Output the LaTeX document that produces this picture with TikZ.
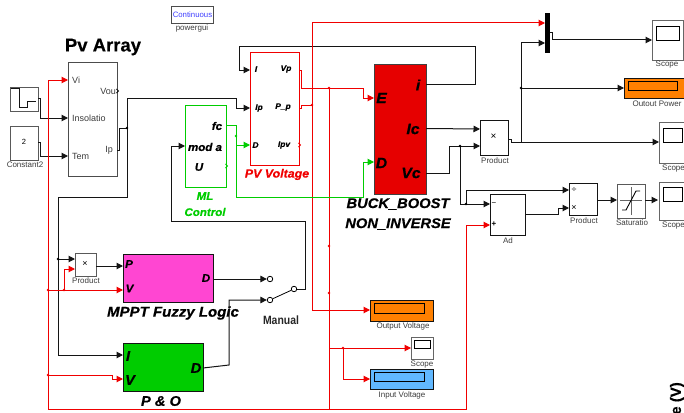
\documentclass[tikz,border=0pt]{standalone}
\usepackage{fontspec}
\setmainfont{Liberation Sans}
\newfontface\hvit{Liberation Sans Bold Italic}[FakeBold=0.6,FakeStretch=1.05]
\newfontface\hvbf{Liberation Sans Bold}[FakeBold=0.4]
\usetikzlibrary{arrows.meta}
\definecolor{wred}{RGB}{240,0,0}
\definecolor{wgreen}{RGB}{0,205,0}
\definecolor{wblack}{RGB}{20,20,20}
\definecolor{bred}{RGB}{230,0,0}
\definecolor{bmag}{RGB}{255,70,210}
\definecolor{bgreen}{RGB}{0,204,0}
\definecolor{borange}{RGB}{255,128,0}
\definecolor{bblue}{RGB}{97,184,255}
\definecolor{lab}{RGB}{60,60,60}
\newcommand{\fsz}[1]{\fontsize{#1}{#1}\selectfont}
\tikzset{
  block/.style={draw=wblack,line width=1pt,fill=white,inner sep=0,anchor=north west},
  scopebox/.style={draw=black!60,line width=1.2pt,fill=white,anchor=north west,inner sep=0},
  inner/.style={draw=black,line width=0.8pt,anchor=north west,inner sep=0},
  blab/.style={inner sep=0,text=lab,font=\fsz{8}},
  plab/.style={inner sep=0,text=black,font=\fsz{8}\hvit},
  flab/.style={inner sep=0,text=black,font=\fsz{15}\hvit},
  wire/.style={draw=wblack,line width=1pt},
  rwire/.style={draw=wred,line width=1pt},
  gwire/.style={draw=wgreen,line width=1pt},
  ar/.style={-{Triangle[length=6.5pt,width=6.5pt]}},
  dot/.style={circle,inner sep=0,minimum size=2.6pt,fill=#1},
  sw/.style={circle,draw=black,line width=0.8pt,fill=white,minimum size=5.5pt,inner sep=0},
}
\begin{document}
\begin{tikzpicture}[x=1pt,y=-1pt]
\clip (0,0) rectangle (684,412);
% --- blocks
\node[block,draw=black!70,minimum width=42pt,minimum height=17pt,font=\fsz{7.8},text=blue!75!white] (gui) at (171,6) {Continuous};
\node[blab] (guil) at (192,28) {powergui};
\node[inner sep=0,font=\fsz{18.5}\hvbf] (pvt) at (103,47) {Pv Array};
\node[block,draw=black!70,minimum width=49pt,minimum height=114pt] (pv) at (68,62) {};
\node[blab,font=\fsz{9},anchor=west] (l1) at (72,80) {Vi};
\node[blab,font=\fsz{9},anchor=west] (l2) at (72,118) {Insolatio};
\node[blab,font=\fsz{9},anchor=west] (l3) at (72,156) {Tem};
\node[blab,font=\fsz{9},anchor=east] (l4) at (116,91) {Vou};
\node[blab,font=\fsz{9},anchor=east] (l5) at (113,150) {Ip};
\node[block,draw=black!65,line width=1.1pt,minimum width=28pt,minimum height=24pt] (step) at (10,87) {};
\draw[line width=0.9pt,draw=wblack] (10.5,88) -- (19,88) -- (19,107) -- (27,107) -- (27,101) -- (36,101);
\node[block,draw=black!65,line width=1.1pt,minimum width=28pt,minimum height=34pt] (con) at (10,126) {};
\node[blab,font=\fsz{7.5},text=black] (cont) at (24,142) {2};
\node[blab] (conl) at (25,165) {Constant2};
% ML control
\node[block,draw=wgreen,minimum width=41pt,minimum height=82pt] (ml) at (185,105) {};
\node[plab,font=\fsz{11}\hvit] (m1) at (217,126) {fc};
\node[plab,font=\fsz{11}\hvit] (m2) at (205,147) {mod a};
\node[plab,font=\fsz{11}\hvit] (m3) at (199,167) {U};
\node[inner sep=0,text=wgreen,font=\fsz{11}\hvit] (mlt1) at (205,196) {ML};
\node[inner sep=0,text=wgreen,font=\fsz{11}\hvit] (mlt2) at (205,212) {Control};
% PV voltage
\node[block,draw=wred,minimum width=49pt,minimum height=113pt] (pvv) at (250,52) {};
\node[plab] (v1) at (256,69) {I};
\node[plab] (v2) at (286,69) {Vp};
\node[plab] (v3) at (259,108) {Ip};
\node[plab] (v4) at (283,107) {P\_p};
\node[plab] (v5) at (255.5,145) {D};
\node[plab] (v6) at (284,145) {Ipv};
\node[inner sep=0,text=wred,font=\fsz{11.8}\hvit] (pvvt) at (277,174.5) {PV Voltage};
% buck boost
\node[block,fill=bred,draw=black!75,minimum width=52pt,minimum height=130pt] (buck) at (374,64) {};
\node[flab,font=\fsz{15}\hvit] (b1) at (381.5,98) {E};
\node[flab,font=\fsz{15}\hvit] (b2) at (381.5,163) {D};
\node[flab,font=\fsz{15}\hvit] (b3) at (418,85) {i};
\node[flab,font=\fsz{15}\hvit] (b4) at (413,129) {Ic};
\node[flab,font=\fsz{15}\hvit] (b5) at (411,173) {Vc};
\node[flab,font=\fsz{14}\hvit] (bt1) at (398,204) {BUCK\_BOOST};
\node[flab,font=\fsz{14}\hvit] (bt2) at (398,224) {NON\_INVERSE};
% product small
\node[block,draw=black!65,line width=1.1pt,minimum width=21pt,minimum height=23pt] (pr1) at (75,253) {};
\node[inner sep=0,font=\fsz{9}] (pr1x) at (85,264) {×};
\node[blab] (pr1l) at (86,281) {Product};
% MPPT
\node[block,fill=bmag,minimum width=90pt,minimum height=48pt] (mppt) at (123,254) {};
\node[flab,font=\fsz{11}\hvit] (f1) at (129,264) {P};
\node[flab,font=\fsz{11}\hvit] (f2) at (129.5,288.5) {V};
\node[flab,font=\fsz{11}\hvit] (f3) at (206,278) {D};
\node[flab,font=\fsz{14.3}\hvit] (ft) at (173,313) {MPPT Fuzzy Logic};
% P&O
\node[block,fill=bgreen,minimum width=80pt,minimum height=48pt] (po) at (123,343) {};
\node[flab,font=\fsz{14}\hvit] (o1) at (128,356) {I};
\node[flab,font=\fsz{14}\hvit] (o2) at (130,380) {V};
\node[flab,font=\fsz{14}\hvit] (o3) at (196,368) {D};
\node[flab,font=\fsz{14}\hvit] (ot) at (161,401) {P \& O};
% switch
\node[sw] (s1) at (270,279) {};
\node[sw] (s2) at (270,300) {};
\node[sw] (s3) at (294,289) {};
\node[inner sep=0,font=\fsz{12}\bfseries,text=black!85,xscale=0.87] (man) at (281,320) {Manual};
% displays
\node[block,fill=borange,minimum width=63pt,minimum height=21pt] (outv) at (370,300) {};
\node[inner,fill=borange,minimum width=50pt,minimum height=10pt] (outvi) at (374,303) {};
\node[blab] (outvl) at (403,326) {Output Voltage};
\node[scopebox,minimum width=22pt,minimum height=22pt] (sc0) at (411,337) {};
\node[inner,minimum width=16pt,minimum height=8pt] (sc0i) at (414,340) {};
\node[blab] (sc0l) at (422,365) {Scope};
\node[block,fill=bblue,minimum width=63pt,minimum height=20pt] (inv) at (370,369) {};
\node[inner,fill=bblue,minimum width=50pt,minimum height=9pt] (invi) at (374,372) {};
\node[blab] (invl) at (402,395) {Input Voltage};
% product main
\node[block,minimum width=28pt,minimum height=35pt] (pr2) at (480,120) {};
\node[inner sep=0,font=\fsz{10}] (pr2x) at (493.5,137) {×};
\node[blab] (pr2l) at (495,161) {Product};
% Ad
\node[block,minimum width=35pt,minimum height=41pt] (ad) at (490,194) {};
\node[inner sep=0,font=\fsz{8}] (ad1) at (494,204) {−};
\node[inner sep=0,font=\fsz{8}\bfseries] (ad2) at (494,224) {+};
\node[blab] (adl) at (508,241) {Ad};
% product 3
\node[block,minimum width=28pt,minimum height=32pt] (pr3) at (569,183) {};
\node[inner sep=0,font=\fsz{9}] (pr3a) at (574,190) {÷};
\node[inner sep=0,font=\fsz{9}] (pr3b) at (574,208) {×};
\node[blab] (pr3l) at (584,221) {Product};
% saturation
\node[block,draw=black!65,line width=1.1pt,minimum width=28pt,minimum height=34pt] (sat) at (617,184) {};
\draw[line width=0.6pt,draw=black!60] (620,200.5) -- (642,200.5) (631,187) -- (631,215);
\draw[line width=0.9pt,draw=black] (622,210) -- (626,210) -- (636,191) -- (640,191);
\node[blab] (satl) at (632,223) {Saturatio};
% mux
\node[inner sep=0,fill=black,minimum width=5pt,minimum height=40pt,anchor=north west] (mux) at (545,13) {};
% scopes
\node[scopebox,minimum width=31pt,minimum height=40pt] (sc1) at (652,20) {};
\node[inner,minimum width=23pt,minimum height=14pt] (sc1i) at (656,26) {};
\node[blab] (sc1l) at (667,65) {Scope};
\node[block,fill=borange,minimum width=70pt,minimum height=20pt] (opw) at (624,78) {};
\node[inner,fill=borange,minimum width=49pt,minimum height=9pt] (opwi) at (628,81) {};
\node[blab] (opwl) at (657,104) {Outout Power};
\node[scopebox,minimum width=40pt,minimum height=41pt] (sc2) at (659,122) {};
\node[inner,minimum width=19pt,minimum height=14pt] (sc2i) at (663,128) {};
\node[blab,anchor=west] (sc2l) at (662,169) {Scope};
\node[scopebox,minimum width=40pt,minimum height=38pt] (sc3) at (659,182) {};
\node[inner,minimum width=19pt,minimum height=14pt] (sc3i) at (663,187) {};
\node[blab,anchor=west] (sc3l) at (662,226) {Scope};
\node[inner sep=0,rotate=90,anchor=east,font=\fsz{15}\hvbf] (axis) at (677,382) {e (V)};
% --- port coordinates
\coordinate (pvVi) at (68,80);
\coordinate (pvIn) at (68,118);
\coordinate (pvTe) at (68,156);
\coordinate (pvIp) at (117,150);
\coordinate (stepO) at (38,98);
\coordinate (conO) at (38,142);
\coordinate (mlMod) at (185,146);
\coordinate (mlFc) at (226,125);
\coordinate (vvI) at (250,70);
\coordinate (vvIp) at (250,108);
\coordinate (vvD) at (250,145);
\coordinate (vvVp) at (299,70);
\coordinate (vvPp) at (299,108);
\coordinate (bkI) at (426,84);
\coordinate (bkIc) at (426,128.5);
\coordinate (bkVc) at (426,173);
\coordinate (bkE) at (374,98);
\coordinate (bkD) at (374,162);
\coordinate (prA) at (480,129);
\coordinate (prB) at (480,146);
\coordinate (prO) at (508,139);
\coordinate (adM) at (490,204);
\coordinate (adP) at (490,225);
\coordinate (adO) at (525,214);
\coordinate (p3A) at (569,190);
\coordinate (p3B) at (569,208);
\coordinate (p3O) at (597,200);
\coordinate (satI) at (617,200);
\coordinate (satO) at (645,200);
\coordinate (s3sI) at (658,200);
\coordinate (muxA) at (545,23);
\coordinate (muxB) at (545,43);
\coordinate (muxO) at (550,33);
\coordinate (sc1I) at (652,40);
\coordinate (opwI) at (624,88);
\coordinate (sc2I) at (659,142);
\coordinate (mpP) at (123,266);
\coordinate (mpV) at (123,290);
\coordinate (mpD) at (213,279);
\coordinate (poI) at (123,355);
\coordinate (poV) at (123,379);
\coordinate (poD) at (203,368);
\coordinate (p1A) at (75,259);
\coordinate (p1B) at (75,269);
\coordinate (p1O) at (96,266);
\coordinate (ovI) at (370,310);
\coordinate (ivI) at (370,379);
\coordinate (sc0I) at (411,348);
% --- black wires
\draw[wire,ar] (stepO) -- (40,98) -- (40,118) -- (pvIn);
\draw[wire,ar] (conO) -- (40,142) -- (40,156) -- (pvTe);
\draw[wire] (pvIp) -- (119,150) -- (119,128) -- (127,128);
\draw[wire,ar] (127,128) -- (127,98) -- (236,98) -- (236,108) -- (vvIp);
\draw[wire,ar] (127,128) -- (127,197) -- (58,197) -- (58,355) -- (poI);
\draw[wire,ar] (58,259) -- (p1A);
\draw[wire,ar] (p1O) -- (mpP);
\draw[wire,ar] (mpD) -- (s1.west);
\draw[wire,ar] (poD) -- (229,365) -- (229,300) -- (s2.west);
\draw[line width=0.8pt,draw=black] (s2) -- (s3);
\draw[wire] (s3.east) -- (305,289) -- (305,221) -- (171,221) -- (171,146);
\draw[wire,ar] (171,146) -- (mlMod);
\draw[wire,ar] (bkI) -- (475,84) -- (475,46.5) -- (239,46.5) -- (239,70) -- (vvI);
\draw[wire,ar] (bkIc) -- (prA);
\draw[wire,ar] (bkVc) -- (449,173) -- (449,146) -- (prB);
\draw[wire,ar] (460,146) -- (460,204) -- (adM);
\draw[wire,ar] (466,204) -- (466,190) -- (p3A);
\draw[wire,ar] (adO) -- (558,214) -- (558,208) -- (p3B);
\draw[wire,ar] (p3O) -- (satI);
\draw[wire,ar] (satO) -- (s3sI);
\draw[wire] (prO) -- (511,139) -- (511,142) -- (521,142);
\draw[wire,ar] (521,142) -- (sc2I);
\draw[wire,ar] (521,142) -- (521,43) -- (muxB);
\draw[wire,ar] (521,88) -- (opwI);
\draw[wire,ar] (muxO) -- (552,33) -- (552,40) -- (sc1I);
% --- red wires
\draw[rwire,ar] (48,409) -- (48,80) -- (pvVi);
\draw[rwire,ar] (48,409) -- (466,409) -- (466,225) -- (adP);
\draw[rwire,ar] (48,290) -- (mpV);
\draw[rwire,ar] (64,290) -- (64,269) -- (p1B);
\draw[rwire,ar] (48,375) -- (112,375) -- (112,379) -- (poV);
\draw[rwire,ar] (vvVp) -- (301,70) -- (301,88) -- (363,88) -- (363,98) -- (bkE);
\draw[rwire] (vvPp) -- (301,108) -- (301,105) -- (312,105);
\draw[rwire,ar] (312,310) -- (312,23) -- (muxA);
\draw[rwire,ar] (312,310) -- (ovI);
\draw[rwire] (329,88) -- (329,409);
\draw[rwire,ar] (329,348) -- (sc0I);
\draw[rwire,ar] (343,348) -- (343,379) -- (ivI);
\draw[wred,line width=0.8pt,-{Straight Barb[length=2pt,width=4pt]}] (299,145) -- (301,145);
% --- green wires
\draw[gwire,ar] (mlFc) -- (236,125) -- (236,145) -- (vvD);
\draw[gwire,ar] (236,136) -- (236,197) -- (363,197) -- (363,162) -- (bkD);
\draw[wgreen,line width=0.8pt,-{Straight Barb[length=2pt,width=4pt]}] (226,166) -- (228,166);
\draw[wblack,line width=0.8pt,-{Straight Barb[length=2pt,width=4pt]}] (117,91) -- (119,91);
% --- junction dots
\node[dot=black] (j1) at (127,128) {};
\node[dot=black] (j2) at (58,259) {};
\node[dot=black] (j3) at (460,146) {};
\node[dot=black] (j4) at (466,204) {};
\node[dot=black] (j5) at (521,88) {};
\node[dot=wred] (j6) at (48,290) {};
\node[dot=wred] (j7) at (64,290) {};
\node[dot=wred] (j8) at (48,375) {};
\node[dot=wred] (j9) at (329,88) {};
\node[dot=wred] (j10) at (312,105) {};
\node[dot=wred] (j11) at (329,246) {};
\node[dot=wred] (j12) at (329,293) {};
\node[dot=wred] (j13) at (343,348) {};
\node[dot=wgreen] (j14) at (236,136) {};
\end{tikzpicture}
\end{document}
